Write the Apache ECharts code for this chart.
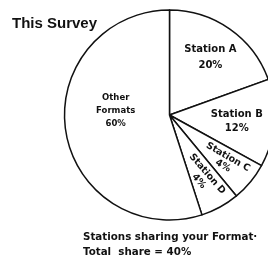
<!DOCTYPE html>
<html><head><meta charset="utf-8">
<script src="https://cdn.jsdelivr.net/npm/echarts@6/dist/echarts.min.js"></script>
<style>html,body{margin:0;padding:0;background:#fff}#c{width:268px;height:258px}</style>
</head><body><div id="c"></div>
<script>
// Slice sizes as drawn in the picture (measured angles), and the percentages printed on it
const categories = ['Station A', 'Station B', 'Station C', 'Station D', 'Other\nFormats'];
const sliceValues = [19.5, 13.5, 6, 6, 55];
const printedPercents = [20, 12, 4, 4, 60];
const titleText = 'This Survey';
const footnote = 'Stations sharing your Format·\nTotal  share = 40%';

const labelOffsets = [[9, -12], [12, 2], [17, 3], [15, 4], [1, -13]];
const labelRotate = [0, 0, -30, -49, 0];
const labelLineHeights = [16, 14, 10, 11, 13];
const labelSizes = [10, 10, 9.5, 9.5, 8.5];

const chart = echarts.init(document.getElementById('c'), null, {renderer: 'canvas'});
const font = '"DejaVu Sans", sans-serif';
chart.setOption({
  animation: false,
  backgroundColor: '#fff',
  title: [
    {text: titleText, left: 7, top: 11, textStyle: {fontFamily: '"Liberation Sans", Arial, sans-serif', fontWeight: 'bold', fontSize: 15, color: '#111'}},
    {text: footnote, left: 78, top: 225, textStyle: {fontFamily: font, fontWeight: 'bold', fontSize: 10.3, lineHeight: 15, color: '#111'}}
  ],
  series: [{
    type: 'pie',
    center: [169.5, 115],
    radius: 105,
    startAngle: 90,
    clockwise: true,
    avoidLabelOverlap: false,
    silent: true,
    labelLayout: {hideOverlap: false},
    itemStyle: {color: '#fff', borderColor: '#111', borderWidth: 1.5},
    label: {show: true, position: 'inside', fontFamily: font, fontWeight: 'bold', fontSize: 8, color: '#111'},
    labelLine: {show: false},
    data: categories.map((n, i) => ({
      name: n, value: sliceValues[i],
      label: {
        formatter: n + '\n' + printedPercents[i] + '%',
        offset: labelOffsets[i], rotate: labelRotate[i],
        lineHeight: labelLineHeights[i], fontSize: labelSizes[i]
      }
    }))
  }]
});
</script></body></html>
